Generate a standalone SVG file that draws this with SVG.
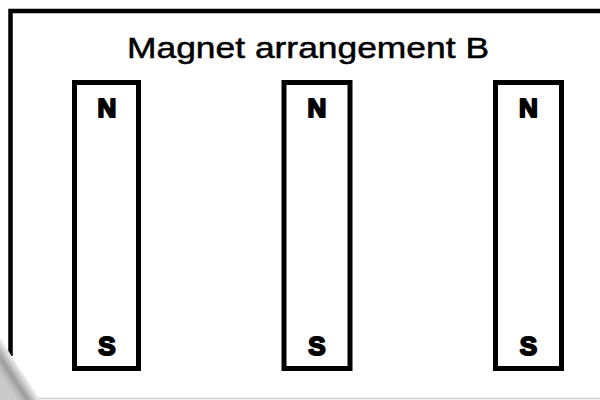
<svg xmlns="http://www.w3.org/2000/svg" width="600" height="400" viewBox="0 0 600 400">
  <style>
    .frame { fill: none; stroke: #000; stroke-width: 4.5; }
    .magnet rect { fill: #fff; stroke: #000; stroke-width: 5; }
    .pole { font-family: "Liberation Sans", Arial, sans-serif; font-weight: bold; font-size: 26px; fill: #000; stroke: #000; stroke-width: 2; stroke-linejoin: round; text-anchor: middle; }
    .title { font-family: "Liberation Sans", Arial, sans-serif; font-size: 30px; fill: #000; stroke: #000; stroke-width: 0.5; }
  </style>
  <defs>
    <linearGradient id="curl" gradientUnits="userSpaceOnUse" x1="20" y1="369" x2="3" y2="380">
      <stop offset="0" stop-color="#eeeeee"/>
      <stop offset="0.15" stop-color="#d8d8d8"/>
      <stop offset="0.5" stop-color="#9c9c9c"/>
      <stop offset="0.8" stop-color="#bdbdbd"/>
      <stop offset="1" stop-color="#cacaca"/>
    </linearGradient>
  </defs>
  <rect width="600" height="400" fill="#fff"/>
  <g id="frame">
    <path class="frame" d="M10.5 356 V11 H600"/>
    <line x1="38" y1="398.5" x2="600" y2="398.5" stroke="#cfcfcf" stroke-width="1.5"/>
    <polygon points="0,338 40,400 0,400" fill="url(#curl)"/>
  </g>
  <g id="title">
    <text class="title" x="127" y="58" textLength="362" lengthAdjust="spacingAndGlyphs">Magnet arrangement B</text>
  </g>
  <g id="magnet-left" class="magnet">
    <rect x="74.5" y="82.5" width="64" height="286"/>
    <text class="pole" x="107" y="117">N</text>
    <text class="pole" x="107" y="355">S</text>
  </g>
  <g id="magnet-middle" class="magnet">
    <rect x="284" y="82.5" width="66" height="286"/>
    <text class="pole" x="317" y="117">N</text>
    <text class="pole" x="317" y="355">S</text>
  </g>
  <g id="magnet-right" class="magnet">
    <rect x="495.5" y="82.5" width="66" height="286"/>
    <text class="pole" x="528.5" y="117">N</text>
    <text class="pole" x="528.5" y="355">S</text>
  </g>
  <g id="connectors"/>
</svg>
